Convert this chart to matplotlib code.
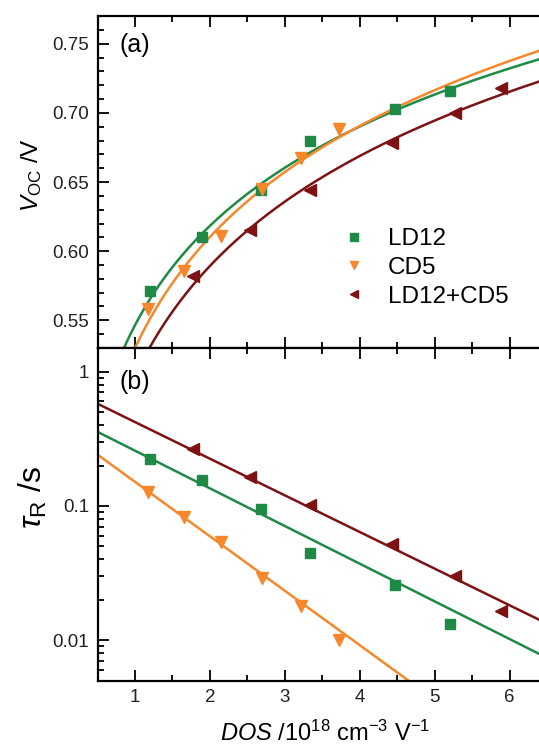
import numpy as np
import matplotlib
matplotlib.use("Agg")
import matplotlib.pyplot as plt
from matplotlib.ticker import MultipleLocator, LogLocator, NullFormatter, FixedFormatter, FixedLocator

plt.rcParams["font.family"] = ["Liberation Sans", "DejaVu Sans"]
plt.rcParams["mathtext.fontset"] = "custom"
plt.rcParams["mathtext.rm"] = "Liberation Sans"
plt.rcParams["mathtext.it"] = "Liberation Sans:italic"

# data
labels = ["LD12", "CD5", "LD12+CD5"]
colors = ["#1f8a45", "#f6882b", "#7c1214"]
markers = ["s", "v", "<"]

dos_ld12 = [1.20, 1.90, 2.68, 3.34, 4.47, 5.20]
dos_cd5 = [1.17, 1.65, 2.15, 2.70, 3.21, 3.72]
dos_mix = [1.78, 2.53, 3.33, 4.43, 5.27, 5.88]

voc_ld12 = [0.571, 0.610, 0.644, 0.680, 0.703, 0.716]
voc_cd5 = [0.558, 0.586, 0.611, 0.645, 0.667, 0.688]
voc_mix = [0.582, 0.615, 0.644, 0.678, 0.700, 0.718]

tau_ld12 = [0.225, 0.155, 0.095, 0.045, 0.026, 0.0132]
tau_cd5 = [0.128, 0.083, 0.054, 0.029, 0.018, 0.0101]
tau_mix = [0.266, 0.164, 0.101, 0.052, 0.030, 0.0166]

# fit parameters: Voc = a + b*ln(DOS), log10(tau) = c + m*DOS
voc_fit_a = [0.5465, 0.5300, 0.5098]
voc_fit_b = [0.1036, 0.1158, 0.1147]
tau_fit_c = [-0.3082, -0.4154, -0.1026]
tau_fit_m = [-0.2804, -0.4053, -0.2728]

dos = [dos_ld12, dos_cd5, dos_mix]
voc = [voc_ld12, voc_cd5, voc_mix]
tau = [tau_ld12, tau_cd5, tau_mix]

fig = plt.figure(figsize=(5.39, 7.45), dpi=100)
ax1 = fig.add_axes([0.181, 0.5329, 0.9033, 0.4456])
ax2 = fig.add_axes([0.181, 0.0863, 0.9033, 0.4466], sharex=ax1)

xx = np.linspace(0.5, 7, 400)
for i in range(3):
    ms = 7 if markers[i] == "s" else 8
    ax1.plot(xx, voc_fit_a[i] + voc_fit_b[i] * np.log(xx), color=colors[i], lw=1.8, zorder=2)
    ax1.plot(dos[i], voc[i], linestyle="none", marker=markers[i], color=colors[i],
             ms=ms, label=labels[i], zorder=3)
    ax2.plot(xx, 10 ** (tau_fit_c[i] + tau_fit_m[i] * xx), color=colors[i], lw=1.8, zorder=2)
    ax2.plot(dos[i], tau[i], linestyle="none", marker=markers[i], color=colors[i],
             ms=ms, zorder=3)

ax1.set_xlim(0.5, 7)
ax1.set_ylim(0.53, 0.77)
ax1.yaxis.set_major_locator(FixedLocator([0.55, 0.60, 0.65, 0.70, 0.75]))
ax1.yaxis.set_major_formatter(FixedFormatter(["0.55", "0.60", "0.65", "0.70", "0.75"]))
ax1.yaxis.set_minor_locator(MultipleLocator(0.01))
ax1.xaxis.set_major_locator(FixedLocator([1, 2, 3, 4, 5, 6]))
ax1.xaxis.set_major_formatter(FixedFormatter(["1", "2", "3", "4", "5", "6"]))
ax1.xaxis.set_minor_locator(FixedLocator([1.5, 2.5, 3.5, 4.5, 5.5, 6.5]))
plt.setp(ax1.get_xticklabels(), visible=False)

ax2.set_yscale("log")
ax2.set_ylim(0.005, 1.5)
ax2.yaxis.set_major_locator(FixedLocator([0.01, 0.1, 1]))
ax2.yaxis.set_major_formatter(FixedFormatter(["0.01", "0.1", "1"]))
ax2.yaxis.set_minor_locator(LogLocator(base=10, subs=np.arange(2, 10)))
ax2.yaxis.set_minor_formatter(NullFormatter())

for ax in (ax1, ax2):
    ax.tick_params(which="both", direction="in", top=True, right=False, width=1.3,
                   labelsize=13.5, pad=6, labelcolor="#222222")
    ax.tick_params(which="major", length=8)
    ax.tick_params(which="minor", length=4)
    for s in ax.spines.values():
        s.set_linewidth(1.6)

ax1.set_ylabel(r"$V_{\rm OC}$ /V", fontsize=17.5)
ax2.set_ylabel(r"$\tau_{\rm R}$ /s", fontsize=23)
ax2.set_xlabel(r"$DOS$ /10$^{18}$ cm$^{-3}$ V$^{-1}$", fontsize=17)
ax1.yaxis.set_label_coords(-0.11, 0.52)
ax2.yaxis.set_label_coords(-0.10, 0.55)
ax2.xaxis.set_label_coords(0.467, -0.12)
ax2.xaxis.label.set_va("top")

ax1.text(0.046, 0.95, "(a)", transform=ax1.transAxes, fontsize=18, va="top")
ax2.text(0.046, 0.934, "(b)", transform=ax2.transAxes, fontsize=18, va="top")

ax1.legend(loc="upper left", bbox_to_anchor=(0.502, 0.361), frameon=False, fontsize=17.5,
           handletextpad=0.9, labelspacing=0.28, borderpad=0, handlelength=1.0,
           borderaxespad=0, markerscale=0.8)

fig.savefig("out.png", dpi=100)
